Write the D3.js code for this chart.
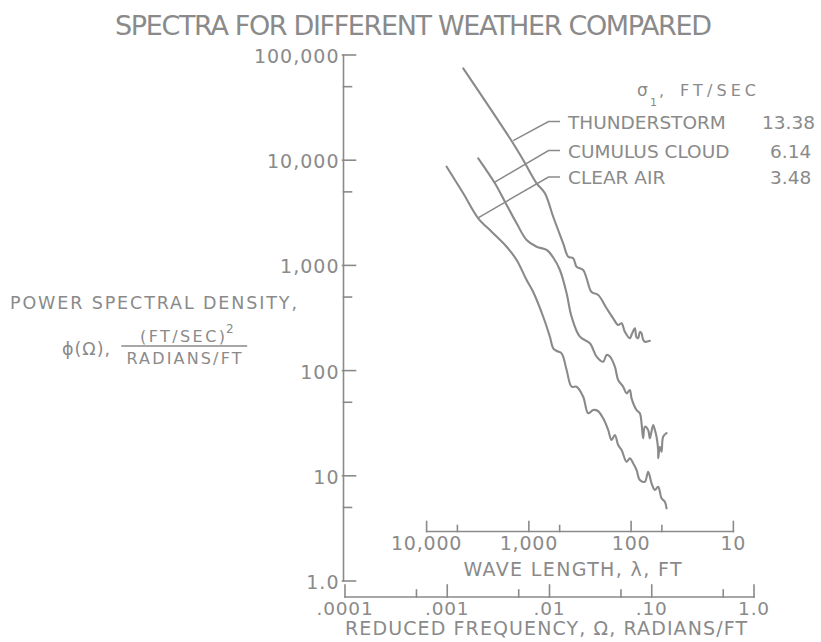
<!DOCTYPE html>
<html>
<head>
<meta charset="utf-8">
<script src="https://cdn.jsdelivr.net/npm/d3@7"></script>
<style>
  html, body { margin: 0; padding: 0; background: #fff; }
  svg { display: block; font-family: "DejaVu Sans", sans-serif; }
</style>
</head>
<body>
<svg id="chart" width="821" height="642"></svg>
<script>
// Reduced frequency Ω (rad/ft) vs power spectral density φ(Ω), (ft/sec)^2 / (rad/ft)
const thunderstorm = [
  [0.001433, 74700], [0.0041, 16150], [0.00553, 10040], [0.00748, 6030], [0.00902, 4850],
  [0.01087, 2900], [0.01361, 1620], [0.01524, 1210], [0.01705, 1170], [0.0184, 972],
  [0.02135, 904], [0.02305, 754], [0.02579, 558], [0.02993, 523], [0.03615, 391],
  [0.04194, 314], [0.04695, 271], [0.05068, 282], [0.05458, 234], [0.06107, 203],
  [0.06389, 223], [0.06836, 252], [0.07071, 209], [0.07364, 203], [0.0765, 233],
  [0.07948, 226], [0.08185, 200], [0.08562, 188], [0.0958, 192]
];
const cumulusCloud = [
  [0.002009, 10420], [0.002926, 6030], [0.003664, 4033], [0.004769, 2513], [0.005973, 1744],
  [0.00748, 1506], [0.009369, 1401], [0.01087, 1189], [0.01264, 904], [0.0147, 543],
  [0.01644, 325], [0.01982, 210], [0.02483, 182], [0.02887, 136], [0.03349, 121.5],
  [0.03615, 140.7], [0.03894, 136], [0.04358, 109], [0.04695, 81.4], [0.05253, 70.3],
  [0.05671, 60.8], [0.06107, 65.4], [0.06345, 54.5], [0.07102, 42.2], [0.0765, 39.3],
  [0.07948, 31.6], [0.0824, 22.7], [0.08562, 29.3], [0.09222, 27.3], [0.0958, 22.7],
  [0.1032, 30.4], [0.1072, 27.3], [0.1114, 23.5], [0.1155, 17.6], [0.1158, 14.7],
  [0.12, 18.9], [0.1247, 16.9], [0.1292, 23.5], [0.1395, 25.4]
];
const clearAir = [
  [0.0009865, 8674], [0.001433, 4847], [0.002009, 2803], [0.002716, 2092], [0.003807, 1506],
  [0.004769, 1125], [0.005973, 726], [0.006929, 558], [0.008679, 325], [0.01009, 210],
  [0.01087, 163], [0.01181, 153.6], [0.01313, 146], [0.0147, 101.3], [0.01644, 70.3],
  [0.0184, 70.3], [0.02135, 56.5], [0.02389, 39.3], [0.02674, 42.2], [0.02972, 41.3],
  [0.03349, 35.2], [0.03748, 27.3], [0.04046, 21.9], [0.04358, 24.4], [0.04695, 19.6],
  [0.05068, 17.6], [0.05671, 13.6], [0.06107, 14.7], [0.06578, 13.15], [0.07102, 11.35],
  [0.0765, 9.12], [0.08562, 8.79], [0.09222, 10.94], [0.09954, 8.49], [0.1072, 7.33],
  [0.1155, 7.88], [0.1247, 6.11], [0.1343, 5.67], [0.1395, 4.91]
];

// Legend: weather type, rms gust velocity σ1 (ft/sec), point on the curve the leader touches
const weatherNames = ["THUNDERSTORM", "CUMULUS CLOUD", "CLEAR AIR"];
const sigmaValues = ["13.38", "6.14", "3.48"];
const leaderAt = [[0.004418, 15330], [0.002861, 6112], [0.001965, 2803]];

// Axis ticks
const psdTicks = [1, 10, 100, 1000, 10000, 100000];
const psdTickLabels = ["1.0", "10", "100", "1,000", "10,000", "100,000"];
const psdMinorTicks = [5, 50, 500, 5000, 50000];
const omegaTicks = [0.0001, 0.001, 0.01, 0.1, 1];
const omegaTickLabels = [".0001", ".001", ".01", ".10", "1.0"];
const omegaMinorTicks = [0.0005, 0.005, 0.05, 0.5];
const waveTicks = [10000, 1000, 100, 10];
const waveTickLabels = ["10,000", "1,000", "100", "10"];
const waveMinorTicks = [5000, 500, 50];

const ink = "#8a8a8a";
const svg = d3.select("#chart");

const x = d3.scaleLog().domain([1e-4, 1]).range([345, 754]);
const y = d3.scaleLog().domain([1, 1e5]).range([581, 55]);
const waveX = lambda => x(2 * Math.PI / lambda);

const text = (sel, attrs, str) => {
  const t = sel.append("text").attr("fill", ink);
  Object.entries(attrs).forEach(([k, v]) => t.attr(k, v));
  t.text(str);
  return t;
};
const line = (x1, y1, x2, y2, w = 1.6) =>
  svg.append("line").attr("x1", x1).attr("y1", y1).attr("x2", x2).attr("y2", y2)
    .attr("stroke", ink).attr("stroke-width", w).attr("stroke-linecap", "square");

// Title
text(svg, { x: 115, y: 35, "font-size": 27, textLength: 597, lengthAdjust: "spacing" },
  "SPECTRA FOR DIFFERENT WEATHER COMPARED");

// Vertical axis: power spectral density
const yAxisX = x(1e-4) - 1.5;
line(yAxisX, y(1e5), yAxisX, y(1));
psdTicks.forEach((v, i) => {
  line(yAxisX - 1, y(v), yAxisX + 12, y(v));
  text(svg, { x: yAxisX - 4, y: y(v) + 8, "font-size": 19, "text-anchor": "end",
    "letter-spacing": 1 }, psdTickLabels[i]);
});
psdMinorTicks.forEach(v => line(yAxisX, y(v), yAxisX + 8, y(v)));

// Vertical axis title
text(svg, { x: 10, y: 309, "font-size": 17.5, textLength: 287, lengthAdjust: "spacing" },
  "POWER SPECTRAL DENSITY,");
text(svg, { x: 62, y: 355, "font-size": 17.5, textLength: 48, lengthAdjust: "spacing" }, "\u03d5(\u03a9),");
text(svg, { x: 140, y: 341.5, "font-size": 16, textLength: 85, lengthAdjust: "spacing" }, "(FT/SEC)");
text(svg, { x: 226, y: 333, "font-size": 12 }, "2");
line(122, 346, 246.5, 346, 1.4);
text(svg, { x: 126.5, y: 363.5, "font-size": 16, textLength: 115, lengthAdjust: "spacing" }, "RADIANS/FT");

// Horizontal axis: reduced frequency
const xAxisY = 597;
line(x(1e-4), xAxisY, x(1), xAxisY);
omegaTicks.forEach((v, i) => {
  line(x(v), xAxisY, x(v), xAxisY - 12);
  text(svg, { x: x(v), y: 615, "font-size": 18.5, "text-anchor": "middle",
    "letter-spacing": 0.8 }, omegaTickLabels[i]);
});
omegaMinorTicks.forEach(v => line(x(v), xAxisY, x(v), xAxisY - 7));
text(svg, { x: 546, y: 635, "font-size": 19, "text-anchor": "middle", textLength: 402,
  lengthAdjust: "spacing" }, "REDUCED FREQUENCY, \u03a9, RADIANS/FT");

// Secondary horizontal axis: wave length λ = 2π/Ω
const waveAxisY = 531.5;
line(waveX(10000), waveAxisY, waveX(10), waveAxisY);
waveTicks.forEach((v, i) => {
  line(waveX(v), waveAxisY, waveX(v), waveAxisY - 10);
  text(svg, { x: waveX(v), y: 550, "font-size": 19, "text-anchor": "middle",
    "letter-spacing": 0.8 }, waveTickLabels[i]);
});
waveMinorTicks.forEach(v => line(waveX(v), waveAxisY, waveX(v), waveAxisY - 6));
text(svg, { x: 572.5, y: 576, "font-size": 19, "text-anchor": "middle", textLength: 218,
  lengthAdjust: "spacing" }, "WAVE LENGTH, \u03bb, FT");

// Spectra
const path = d3.line()
  .x(d => x(d[0]))
  .y(d => y(d[1]))
  .curve(d3.curveCatmullRom.alpha(0.5));
[thunderstorm, cumulusCloud, clearAir].forEach(series => {
  svg.append("path")
    .attr("d", path(series))
    .attr("fill", "none")
    .attr("stroke", ink)
    .attr("stroke-width", 2.1)
    .attr("stroke-linejoin", "round")
    .attr("stroke-linecap", "round");
});

// Legend with leader lines
text(svg, { x: 637, y: 96, "font-size": 17 }, "\u03c3");
text(svg, { x: 650, y: 106, "font-size": 11 }, "1");
text(svg, { x: 659, y: 96, "font-size": 16 }, ",");
text(svg, { x: 680, y: 96, "font-size": 16, textLength: 76, lengthAdjust: "spacing" }, "FT/SEC");

const rowBaselines = [128.5, 157.5, 184];
weatherNames.forEach((name, i) => {
  const rowMid = rowBaselines[i] - 7;
  svg.append("polyline")
    .attr("points", [[x(leaderAt[i][0]), y(leaderAt[i][1])], [548.5, rowMid], [560, rowMid]]
      .map(p => p.join(",")).join(" "))
    .attr("fill", "none").attr("stroke", ink).attr("stroke-width", 1.5);
  text(svg, { x: 568, y: rowBaselines[i], "font-size": 18.5 }, name);
  text(svg, { x: i === 0 ? 762 : 770, y: rowBaselines[i], "font-size": 18.5 }, sigmaValues[i]);
});
</script>
</body>
</html>
